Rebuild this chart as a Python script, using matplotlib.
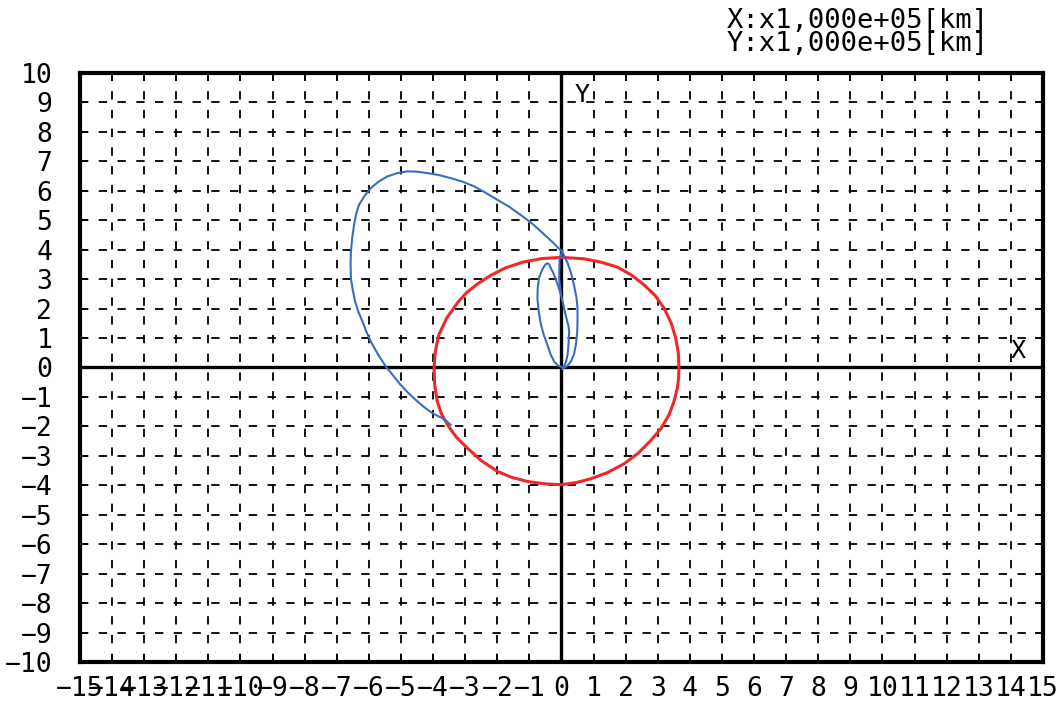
import numpy as np
import matplotlib
matplotlib.use("Agg")
import matplotlib.pyplot as plt

plt.rcParams['lines.scale_dashes'] = False
plt.rcParams['font.family'] = ['DejaVu Sans Mono', 'DejaVu Sans']

# axis ranges (units of 1e5 km)
xlim = (-15, 15)
ylim = (-10, 10)
xticks = list(range(-15, 16))
yticks = list(range(-10, 11))

# moon orbit
moon_x = [0.0, 0.7, 1.22, 1.74, 2.18, 2.57, 2.92, 3.2, 3.42, 3.56, 3.64, 3.66,
          3.65, 3.61, 3.5, 3.35, 3.1, 2.78, 2.4, 1.95, 1.45, 0.91, 0.45, 0.0,
          -0.53, -1.06, -1.55, -1.99, -2.5, -2.93, -3.28, -3.55, -3.75, -3.87,
          -3.95, -3.97, -3.93, -3.82, -3.58, -3.21, -2.95, -2.6, -2.2, -1.75,
          -1.2, -0.6, 0.0]
moon_y = [3.74, 3.69, 3.58, 3.41, 3.14, 2.81, 2.44, 2.01, 1.5, 0.99, 0.5, 0.0,
          -0.35, -0.7, -1.17, -1.61, -2.07, -2.48, -2.9, -3.27, -3.56, -3.78,
          -3.91, -3.98, -3.95, -3.87, -3.73, -3.53, -3.16, -2.74, -2.36, -1.95,
          -1.55, -1.15, -0.6, -0.02, 0.55, 1.11, 1.67, 2.24, 2.55, 2.85, 3.13,
          3.38, 3.58, 3.7, 3.74]

# transfer trajectory: earth -> apogee -> big loop -> moon
traj_x = [0.03, 0.18, 0.29, 0.39, 0.45, 0.49, 0.5, 0.5, 0.47, 0.39, 0.3, 0.19,
          0.03, -0.3, -0.64, -0.95, -1.27, -1.63, -1.99, -2.36, -2.72, -3.08,
          -3.45, -3.8, -4.17, -4.5, -4.8, -5.12, -5.42, -5.7, -5.94, -6.14,
          -6.31, -6.4, -6.46, -6.52, -6.56, -6.57, -6.56, -6.5, -6.43, -6.33,
          -6.2, -6.08, -5.94, -5.72, -5.47, -5.24, -5.01, -4.76, -4.49, -4.25,
          -4.02, -3.85, -3.71, -3.58, -3.45]
traj_y = [-0.05, 0.05, 0.2, 0.45, 0.78, 1.2, 1.6, 2.0, 2.35, 2.8, 3.2, 3.55,
          3.92, 4.28, 4.62, 4.92, 5.18, 5.46, 5.69, 5.93, 6.15, 6.31, 6.43,
          6.53, 6.6, 6.65, 6.66, 6.6, 6.49, 6.31, 6.09, 5.82, 5.52, 5.2, 4.85,
          4.4, 3.94, 3.5, 3.03, 2.62, 2.24, 1.9, 1.56, 1.22, 0.88, 0.45, 0.03,
          -0.28, -0.59, -0.88, -1.15, -1.37, -1.55, -1.65, -1.72, -1.82, -1.95]

# parking orbit loops near earth
park_x = [0.03, -0.06, -0.07, -0.02, 0.08, 0.16, 0.22, 0.24, 0.22, 0.19, 0.13,
          0.05, -0.1, -0.23, -0.34, -0.44, -0.55, -0.64, -0.71, -0.75, -0.74,
          -0.7, -0.63, -0.56, -0.5, -0.44, -0.38, -0.33, -0.25, -0.18, -0.12,
          -0.07, -0.02]
park_y = [3.97, 3.7, 3.0, 2.5, 2.01, 1.65, 1.4, 1.22, 0.8, 0.43, 0.15, 0.0,
          0.06, 0.2, 0.45, 0.77, 1.1, 1.46, 1.9, 2.35, 2.7, 3.03, 3.25, 3.4,
          3.5, 3.54, 3.5, 3.37, 3.2, 3.0, 2.82, 2.64, 2.5]

fig = plt.figure(figsize=(10.61, 7.02), dpi=100)
ax = fig.add_axes([0.0754, 0.057, 0.9076, 0.839])

ax.set_xlim(*xlim)
ax.set_ylim(*ylim)
ax.set_xticks(xticks)
ax.set_yticks(yticks)
ax.set_xticklabels([str(v).replace('-', '\u2212') for v in xticks])
ax.set_yticklabels([str(v).replace('-', '\u2212') for v in yticks])
ax.tick_params(direction='in', length=6, width=1.3, top=True, right=True,
               labelsize=19, colors='black')
ax.tick_params(axis='y', pad=20)
ax.tick_params(axis='x', pad=10)
for s in ax.spines.values():
    s.set_linewidth(3)

ax.grid(True, color='black', linewidth=1.3, dashes=(6, 7.5))
ax.axhline(0, color='black', lw=2.4, zorder=2)
ax.axvline(0, color='black', lw=2.4, zorder=2)

ax.plot(moon_x, moon_y, color='#f02828', lw=2.2, zorder=3)
ax.plot(traj_x, traj_y, color='#3a6cc0', lw=1.5, zorder=4)
ax.plot(park_x, park_y, color='#3a6cc0', lw=1.5, zorder=4)

ax.text(0.4, 9.25, 'Y', fontsize=18, ha='left', va='center')
ax.text(14.0, 0.55, 'X', fontsize=18, ha='left', va='center')

fig.text(727 / 1061, 1 - 21 / 702, 'X:x1,000e+05[km]', fontsize=19.5,
         ha='left', va='center')
fig.text(727 / 1061, 1 - 44 / 702, 'Y:x1,000e+05[km]', fontsize=19.5,
         ha='left', va='center')

fig.savefig('out.png', dpi=100)
